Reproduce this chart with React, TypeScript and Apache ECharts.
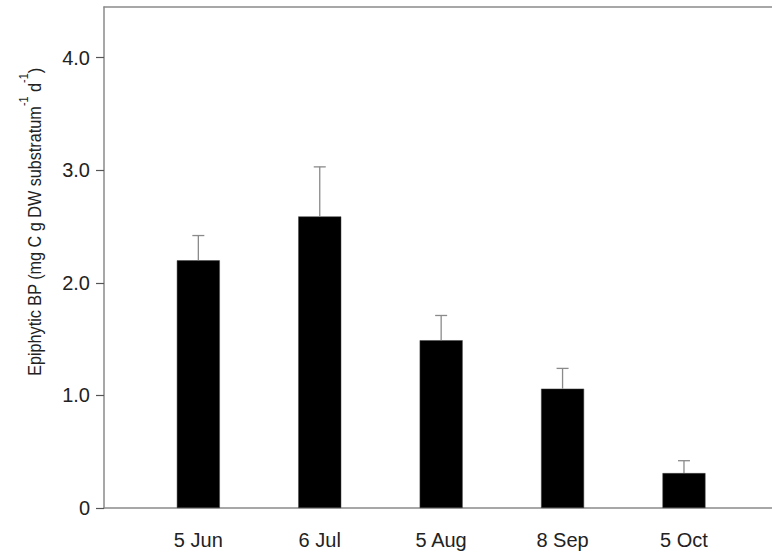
import React, { useEffect, useRef } from "react";
import * as echarts from "echarts";

// Sampling dates and epiphytic bacterial production (mean and SE)
const categories = ["5 Jun", "6 Jul", "5 Aug", "8 Sep", "5 Oct"];
const meanBP = [2.2, 2.59, 1.49, 1.06, 0.31];
const seBP = [0.22, 0.44, 0.22, 0.18, 0.11];
const positions = [1, 2, 3, 4, 5];
const yTicks = [0, 1, 2, 3, 4];

const AXIS_GRAY = "#8a8a8a";
const TEXT = "#222";
const FONT = "'Liberation Sans', Arial, sans-serif";

export default function App() {
  const ref = useRef<HTMLDivElement>(null);

  useEffect(() => {
    if (!ref.current) return;
    const chart = echarts.init(ref.current, undefined, { renderer: "svg" });

    const barData = meanBP.map((v, i) => [positions[i], v]);
    const errData = meanBP.map((v, i) => [positions[i], v, v + seBP[i]]);

    chart.setOption({
      animation: false,
      backgroundColor: "#fff",
      textStyle: { fontFamily: FONT },
      grid: { left: 104, right: -2, top: 7, bottom: 51 },
      xAxis: [
        {
          type: "value",
          min: 0.223,
          max: 5.725,
          axisLine: { show: true, lineStyle: { color: AXIS_GRAY, width: 1.5 } },
          axisTick: { show: false },
          splitLine: { show: false },
          axisLabel: {
            customValues: positions,
            formatter: (v: number) => categories[Math.round(v) - 1] ?? "",
            fontSize: 20,
            color: TEXT,
            fontFamily: FONT,
            margin: 22,
          },
        },
        {
          type: "value",
          position: "top",
          min: 0.223,
          max: 5.725,
          axisLine: { show: true, lineStyle: { color: AXIS_GRAY, width: 1.5 } },
          axisTick: { show: false },
          axisLabel: { show: false },
          splitLine: { show: false },
        },
      ],
      yAxis: {
        type: "value",
        min: 0,
        max: 4.45,
        axisLine: { show: true, lineStyle: { color: AXIS_GRAY, width: 1.5 } },
        axisTick: {
          show: true,
          inside: false,
          length: 8,
          customValues: yTicks,
          lineStyle: { color: "#555", width: 1.2 },
        },
        splitLine: { show: false },
        axisLabel: {
          customValues: yTicks,
          formatter: (v: number) => (v === 0 ? "0" : v.toFixed(1)),
          fontSize: 20,
          color: TEXT,
          fontFamily: FONT,
          margin: 14,
        },
      },
      graphic: [
        {
          type: "text",
          x: 31,
          y: 222,
          rotation: Math.PI / 2,
          scaleX: 0.9,
          style: {
            text: "{m|Epiphytic BP (mg C g DW substratum}{s|-1}{m| d}{s|-1}{m|)}",
            align: "center",
            verticalAlign: "middle",
            rich: {
              m: { fontSize: 18, fontFamily: FONT, fill: TEXT, lineHeight: 26, verticalAlign: "bottom" },
              s: { fontSize: 12, fontFamily: FONT, fill: TEXT, lineHeight: 12, verticalAlign: "top" },
            },
          },
        },
      ],
      series: [
        {
          type: "bar",
          data: barData,
          barWidth: 43,
          itemStyle: { color: "#000", borderColor: "#444", borderWidth: 0.5 },
          z: 2,
        },
        {
          type: "custom",
          data: errData,
          encode: { x: 0, y: [1, 2] },
          z: 3,
          renderItem: (_params: any, api: any) => {
            const x = api.value(0);
            const lo = api.coord([x, api.value(1)]);
            const hi = api.coord([x, api.value(2)]);
            const style = { stroke: "#8a8a8a", lineWidth: 1.3 };
            return {
              type: "group",
              children: [
                { type: "line", shape: { x1: lo[0], y1: lo[1], x2: hi[0], y2: hi[1] }, style },
                { type: "line", shape: { x1: hi[0] - 6, y1: hi[1], x2: hi[0] + 6, y2: hi[1] }, style },
              ],
            };
          },
        },
      ],
    });

    return () => chart.dispose();
  }, []);

  return (
    <div
      ref={ref}
      style={{ position: "absolute", left: 0, top: 0, width: 772, height: 559 }}
    />
  );
}
